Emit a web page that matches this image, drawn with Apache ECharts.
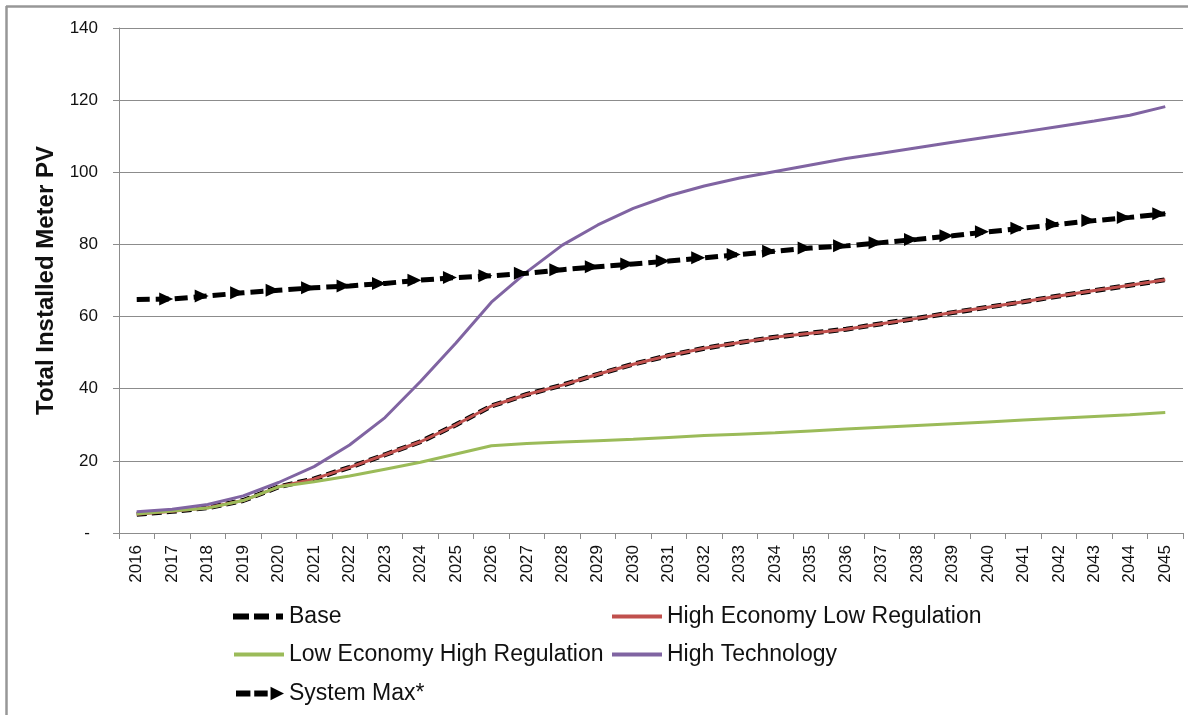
<!DOCTYPE html>
<html>
<head>
<meta charset="utf-8">
<script src="https://cdn.jsdelivr.net/npm/echarts@6/dist/echarts.min.js"></script>
<style>
  html, body { margin: 0; padding: 0; background: #fff; }
  #chart { width: 1196px; height: 715px; }
</style>
</head>
<body>
<div id="chart"></div>
<script>
// Forecast years on the category axis
const years = ['2016','2017','2018','2019','2020','2021','2022','2023','2024','2025',
               '2026','2027','2028','2029','2030','2031','2032','2033','2034','2035',
               '2036','2037','2038','2039','2040','2041','2042','2043','2044','2045'];

// Total installed behind-the-meter PV by scenario
const base = [5.2, 6.0, 7.0, 9.0, 12.8, 15.0, 18.2, 21.7, 25.3, 30.0,
              35.2, 38.4, 41.0, 44.0, 46.8, 49.2, 51.2, 52.8, 54.3, 55.4,
              56.5, 58.0, 59.5, 61.1, 62.6, 64.1, 65.7, 67.2, 68.7, 70.2];
const highEconLowReg = [5.2, 6.0, 7.0, 9.0, 12.8, 15.0, 18.2, 21.7, 25.3, 30.0,
                        35.2, 38.4, 41.0, 44.0, 46.8, 49.2, 51.2, 52.8, 54.3, 55.4,
                        56.5, 58.0, 59.5, 61.1, 62.6, 64.1, 65.7, 67.2, 68.7, 70.2];
const lowEconHighReg = [5.3, 6.1, 6.9, 9.0, 12.8, 14.2, 15.8, 17.7, 19.6, 21.9,
                        24.2, 24.8, 25.2, 25.6, 26.0, 26.5, 27.0, 27.4, 27.8, 28.3,
                        28.8, 29.3, 29.8, 30.3, 30.8, 31.3, 31.8, 32.3, 32.8, 33.4];
const highTech = [5.9, 6.6, 7.9, 10.3, 14.0, 18.4, 24.4, 32.0, 42.0, 52.7,
                  64.0, 72.4, 79.8, 85.4, 90.0, 93.5, 96.2, 98.4, 100.2, 102.0,
                  103.8, 105.3, 106.8, 108.3, 109.8, 111.2, 112.7, 114.2, 115.8, 118.2];
const systemMax = [64.7, 64.9, 65.7, 66.6, 67.3, 68.0, 68.5, 69.2, 70.1, 70.8,
                   71.3, 72.0, 73.0, 73.8, 74.6, 75.4, 76.3, 77.2, 78.1, 79.0,
                   79.6, 80.5, 81.4, 82.4, 83.5, 84.5, 85.6, 86.6, 87.5, 88.5];

// Value axis ticks
const yMin = 0, yMax = 140, yStep = 20;

const FONT = '"Liberation Sans", Arial, sans-serif';
const AXIS_GRAY = '#8c8c8c';

const arrowPath = 'path://M0,0 L10,5 L0,10 Z';
const lineIcon = 'path://M0,0 H50 V4 H0 Z';
const baseIcon = 'path://M0,0 H16 V6 H0 Z M21,0 H36 V6 H21 Z M43,0 H50 V6 H43 Z';
const sysMaxIcon = 'path://M0,4 H15 V10 H0 Z M19,4 H33 V10 H19 Z M36,0 L50,7 L36,14 Z';

function legendAt(name, left, top, icon, w, h) {
  return {
    data: [{ name: name, icon: icon }],
    left: left,
    top: top,
    orient: 'horizontal',
    padding: 0,
    itemWidth: w,
    itemHeight: h,
    selectedMode: false,
    textStyle: { fontFamily: FONT, fontSize: 23, color: '#111' }
  };
}

const chart = echarts.init(document.getElementById('chart'));
chart.setOption({
  backgroundColor: '#fff',
  animation: false,
  grid: { left: 119, right: 13, top: 28, bottom: 182 },
  graphic: [
    { type: 'line', shape: { x1: 6, y1: 6.5, x2: 1188, y2: 6.5 }, style: { stroke: '#979797', lineWidth: 2.5 } },
    { type: 'line', shape: { x1: 6.5, y1: 6, x2: 6.5, y2: 715 }, style: { stroke: '#979797', lineWidth: 2.5 } }
  ],
  legend: [
    legendAt('Base', 233, 605, baseIcon, 52, 6),
    legendAt('High Economy Low Regulation', 612, 605, lineIcon, 50, 4),
    legendAt('Low Economy High Regulation', 234, 643, lineIcon, 50, 4),
    legendAt('High Technology', 612, 643, lineIcon, 50, 4),
    legendAt('System Max*', 236, 682, sysMaxIcon, 48, 14)
  ],
  xAxis: {
    type: 'category',
    data: years,
    boundaryGap: true,
    axisLine: { lineStyle: { color: AXIS_GRAY, width: 1 } },
    axisTick: { show: true, length: 6, alignWithLabel: false, lineStyle: { color: AXIS_GRAY } },
    axisLabel: {
      rotate: 90, interval: 0, margin: 12,
      fontFamily: FONT, fontSize: 17, color: '#111'
    }
  },
  yAxis: {
    type: 'value',
    min: yMin, max: yMax, interval: yStep,
    axisLine: { show: true, lineStyle: { color: AXIS_GRAY, width: 1 } },
    axisTick: { show: true, length: 6, lineStyle: { color: AXIS_GRAY } },
    splitLine: { lineStyle: { color: AXIS_GRAY, width: 1 } },
    axisLabel: {
      margin: 21, fontFamily: FONT, fontSize: 17, color: '#111',
      formatter: v => (v === 0 ? '{d|-}' : String(v)),
      rich: { d: { fontFamily: FONT, fontSize: 17, color: '#111', padding: [0, 8, 0, 0] } }
    },
    name: 'Total Installed Meter PV',
    nameLocation: 'middle',
    nameGap: 61,
    nameRotate: 90,
    nameTextStyle: { fontFamily: FONT, fontSize: 24, fontWeight: 'bold', color: '#111' }
  },
  series: [
    {
      name: 'Base', type: 'line', data: base,
      symbol: 'none', z: 2,
      itemStyle: { color: '#000' },
      lineStyle: { color: '#000', width: 5, type: [10, 5] }
    },
    {
      name: 'High Economy Low Regulation', type: 'line', data: highEconLowReg,
      symbol: 'none', z: 3,
      itemStyle: { color: '#C0504D' },
      lineStyle: { color: '#C0504D', width: 3 }
    },
    {
      name: 'Low Economy High Regulation', type: 'line', data: lowEconHighReg,
      symbol: 'none', z: 4,
      itemStyle: { color: '#9BBB59' },
      lineStyle: { color: '#9BBB59', width: 3 }
    },
    {
      name: 'High Technology', type: 'line', data: highTech,
      symbol: 'none', z: 5,
      itemStyle: { color: '#8064A2' },
      lineStyle: { color: '#8064A2', width: 3 }
    },
    {
      name: 'System Max*', type: 'line',
      data: systemMax.map((v, i) => (i === 0 ? { value: v, symbol: 'none' } : v)),
      z: 6,
      showSymbol: true, showAllSymbol: true,
      symbol: arrowPath, symbolSize: [14, 13], symbolOffset: [-6, 0],
      itemStyle: { color: '#000' },
      lineStyle: { color: '#000', width: 5, type: [13, 6] }
    }
  ]
});
</script>
</body>
</html>
